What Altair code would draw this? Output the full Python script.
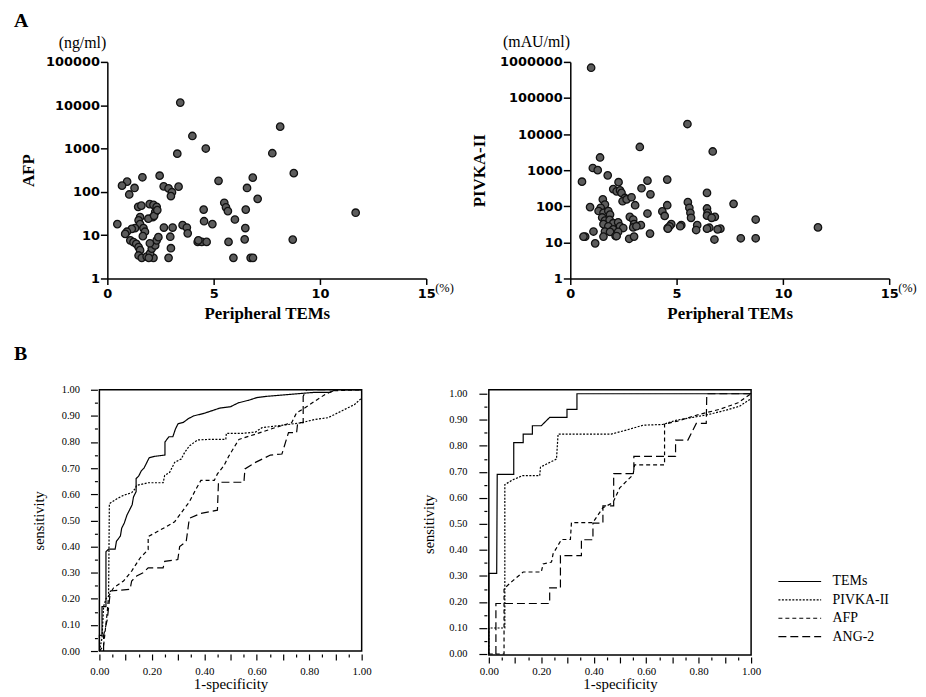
import altair as alt
import pandas as pd

SANS = "DejaVu Sans"
SERIF = "Liberation Serif"

# ---------------- Panel A: scatter data ----------------
afp_x = [3.43, 4.0, 4.63, 3.29, 8.13, 7.76, 8.77, 11.68, 8.72, 5.23, 6.84, 6.57, 7.07, 6.51,
         5.5, 5.58, 5.67, 6.0, 4.53, 4.55, 4.94, 6.49, 6.46, 5.7, 5.93, 6.74, 6.85, 4.25,
         4.44, 4.67, 4.28, 3.54, 3.74, 3.78, 2.66, 3.07, 2.96, 2.99, 2.88, 2.46, 2.65, 2.88,
         3.04, 2.99, 3.35, 1.65, 0.93, 0.69, 1.03, 1.28, 0.47,
         1.45, 1.6, 1.99, 2.17, 2.32, 2.25, 2.14, 1.93, 1.54, 1.47, 1.54, 1.7, 1.3, 1.15,
         0.92, 0.84, 1.08, 1.23, 1.36, 1.47, 1.54, 1.47, 1.62, 1.85, 2.17, 2.01, 2.09, 2.25,
         2.32, 2.4, 1.77, 1.67, 2.2, 2.35, 1.95, 2.0]
afp_y = [11500, 1950, 1000, 760, 3200, 780, 270, 33, 7.9, 180, 213, 123, 69, 39,
         56, 44, 36, 23, 39, 21, 18, 14.6, 8.0, 7, 3, 3, 3, 7,
         7, 7, 7.6, 17, 15, 11, 15, 15, 9.2, 5, 3, 236, 134, 120,
         98, 80, 132, 217, 172, 139, 87, 123, 18,
         45, 48, 52, 50, 45, 34, 26, 24, 26, 22, 18, 14.5, 14.5, 14,
         12, 10.7, 7.6, 6.9, 6.3, 5.3, 4.5, 3.4, 3, 3.2, 3, 3.8, 4.9, 5.8,
         7.6, 9, 12, 9.5, 28, 38, 3, 6.5]

pivka_x = [0.98, 5.51, 3.27, 6.70, 1.40, 1.06, 1.29, 1.76, 0.55, 4.56, 3.63, 2.27, 3.35, 3.77,
           6.43, 7.68, 5.53, 4.56, 3.05, 0.93, 6.43, 6.46, 6.8, 5.6, 5.65, 5.68, 4.33, 4.44,
           3.63, 8.72, 11.65, 7.06, 6.54, 5.97, 5.92, 5.22, 4.75, 4.58, 3.32, 3.75, 8.02, 8.72,
           6.78, 0.7, 1.09, 1.17, 2.8, 2.96, 3.0, 2.96, 2.77, 3.0,
           2.02, 2.18, 2.34, 2.41, 2.57, 2.46, 2.65, 2.88, 1.53, 1.63, 1.43, 1.33, 1.56, 1.79,
           1.87, 1.5, 1.63, 1.85, 2.02, 2.25, 1.56, 1.79, 2.02, 2.34, 2.49, 1.63, 1.87, 2.13,
           2.25, 2.18, 3.11, 4.67, 4.59, 5.17, 6.43, 6.65, 6.43, 6.93, 0.62, 1.56]
pivka_y = [690000, 19000, 4400, 3300, 2250, 1150, 1000, 720, 480, 550, 513, 465, 316, 215,
           235, 117, 130, 107, 107, 95, 87, 66, 51, 91, 66, 48, 72, 54,
           63, 43, 26, 24, 25.5, 30, 22, 30, 32, 25, 30, 17.5, 13, 13,
           12, 14.4, 20, 9.4, 51, 43, 32, 26, 12.6, 14.5,
           300, 260, 275, 235, 170, 138, 155, 178, 155, 112, 91, 74, 66, 74,
           59, 49, 40, 42, 34, 36, 32, 28, 23, 28, 25, 20, 19.5, 15,
           19.5, 15, 28, 28, 24, 28, 55, 48, 24, 23, 14.5, 14.5]

# ---------------- Panel B: ROC curves ----------------
series = ["TEMs", "PIVKA-II", "AFP", "ANG-2"]
dashes = [[1, 0], [2, 1.5], [4, 3], [8, 4]]

b1_tems_fpr = [0, 0, 0.01, 0.01, 0.025, 0.025, 0.035, 0.06, 0.065, 0.08, 0.085, 0.095, 0.105, 0.115,
               0.125, 0.13, 0.14, 0.14, 0.15, 0.16, 0.17, 0.18, 0.19, 0.21, 0.25, 0.25, 0.265, 0.28,
               0.29, 0.30, 0.32, 0.34, 0.36, 0.38, 0.40, 0.43, 0.46, 0.50, 0.53, 0.57, 0.60, 0.64,
               0.70, 0.76, 0.82, 0.88, 0.90, 1.0]
b1_tems_tpr = [0, 0.06, 0.06, 0.17, 0.17, 0.38, 0.39, 0.39, 0.42, 0.44, 0.47, 0.49, 0.52, 0.54,
               0.56, 0.59, 0.61, 0.66, 0.67, 0.69, 0.70, 0.72, 0.74, 0.745, 0.75, 0.80, 0.82, 0.82,
               0.85, 0.87, 0.875, 0.89, 0.90, 0.905, 0.91, 0.92, 0.93, 0.935, 0.95, 0.96, 0.97, 0.975,
               0.98, 0.985, 0.99, 0.99, 1.0, 1.0]
b1_pivka_fpr = [0, 0.01, 0.016, 0.025, 0.035, 0.038, 0.067, 0.092, 0.123, 0.136, 0.142, 0.186,
                0.243, 0.249, 0.268, 0.287, 0.312, 0.325, 0.343, 0.375, 0.419, 0.482, 0.484, 0.545,
                0.595, 0.62, 0.67, 0.72, 0.771, 0.821, 0.872, 0.922, 0.972, 1.0]
b1_pivka_tpr = [0, 0.05, 0.17, 0.2, 0.21, 0.564, 0.583, 0.596, 0.606, 0.621, 0.634, 0.644,
                0.644, 0.672, 0.684, 0.722, 0.735, 0.76, 0.785, 0.808, 0.81, 0.81, 0.833, 0.833,
                0.838, 0.855, 0.861, 0.867, 0.874, 0.886, 0.893, 0.918, 0.943, 0.968]
b1_afp_fpr = [0, 0.016, 0.03, 0.035, 0.054, 0.092, 0.123, 0.155, 0.186, 0.186, 0.255, 0.287,
              0.343, 0.369, 0.387, 0.438, 0.45, 0.475, 0.494, 0.532, 0.595, 0.67, 0.733, 0.752,
              0.784, 0.821, 0.859, 0.89, 1.0]
b1_afp_tpr = [0, 0.02, 0.15, 0.21, 0.242, 0.268, 0.306, 0.356, 0.388, 0.438, 0.476, 0.495,
              0.571, 0.621, 0.653, 0.653, 0.678, 0.71, 0.747, 0.81, 0.83, 0.855, 0.874, 0.912,
              0.931, 0.956, 0.981, 0.996, 1.0]
b1_ang_fpr = [0.016, 0.016, 0.03, 0.042, 0.117, 0.123, 0.142, 0.167, 0.186, 0.243, 0.249, 0.299,
              0.306, 0.331, 0.343, 0.387, 0.45, 0.454, 0.551, 0.555, 0.595, 0.652, 0.696, 0.721,
              0.752, 0.756, 0.777, 0.777, 0.79, 1.0]
b1_ang_tpr = [0.0, 0.06, 0.12, 0.23, 0.236, 0.268, 0.287, 0.3, 0.318, 0.318, 0.343, 0.35,
              0.4, 0.419, 0.508, 0.527, 0.539, 0.646, 0.646, 0.697, 0.722, 0.75, 0.754, 0.836,
              0.836, 0.874, 0.874, 0.975, 1.0, 1.0]

b2_tems_fpr = [0, 0, 0.03, 0.032, 0.095, 0.095, 0.131, 0.131, 0.166, 0.166, 0.2, 0.232, 0.298,
               0.298, 0.336, 0.336, 1.0]
b2_tems_tpr = [0, 0.31, 0.31, 0.69, 0.69, 0.812, 0.812, 0.845, 0.845, 0.877, 0.877, 0.909, 0.909,
               0.94, 0.94, 1.0, 1.0]
b2_pivka_fpr = [0, 0, 0.061, 0.061, 0.093, 0.128, 0.194, 0.197, 0.258, 0.264, 0.467, 0.524, 0.588,
                0.664, 0.714, 0.778, 0.841, 0.905, 0.956, 1.0]
b2_pivka_tpr = [0, 0.10, 0.10, 0.651, 0.67, 0.685, 0.685, 0.718, 0.749, 0.845, 0.845, 0.86, 0.879,
                0.882, 0.898, 0.909, 0.921, 0.937, 0.952, 0.981]
b2_afp_fpr = [0, 0.058, 0.058, 0.093, 0.131, 0.2, 0.207, 0.239, 0.245, 0.277, 0.311, 0.315, 0.397,
              0.435, 0.473, 0.499, 0.55, 0.556, 0.67, 0.67, 0.72, 0.8, 0.88, 0.95, 1.0]
b2_afp_tpr = [0, 0, 0.251, 0.283, 0.315, 0.315, 0.346, 0.353, 0.385, 0.44, 0.44, 0.505, 0.505,
              0.562, 0.581, 0.638, 0.689, 0.727, 0.727, 0.883, 0.895, 0.92, 0.94, 0.965, 1.0]
b2_ang_fpr = [0.027, 0.027, 0.232, 0.232, 0.273, 0.273, 0.353, 0.353, 0.397, 0.397, 0.435, 0.435,
              0.476, 0.476, 0.553, 0.553, 0.712, 0.712, 0.759, 0.791, 0.829, 0.831, 1.0]
b2_ang_tpr = [0, 0.194, 0.194, 0.254, 0.254, 0.378, 0.378, 0.439, 0.439, 0.503, 0.503, 0.569,
              0.569, 0.693, 0.693, 0.759, 0.759, 0.822, 0.822, 0.886, 0.886, 1.0, 1.0]


def scatter(xs, ys, ymax, ytitle, unit, unit_dx, unit_dy, xrange, yoffset, ext, tpad, width,
            letter=None):
    xscale = alt.Scale(domain=[0, 15], range=xrange, nice=False, zero=False)
    yscale = alt.Scale(type="log", domain=[1, ymax], nice=False)
    ndec = len(str(ymax)) - 1
    xenc = alt.X("x:Q", scale=xscale,
                 axis=alt.Axis(values=[0, 5, 10, 15], format="d", title="Peripheral TEMs",
                               labelFlush=False, tickSize=6, labelPadding=3, titlePadding=5,
                               labelFont=SANS, labelFontSize=13, labelFontWeight="bold",
                               titleFont=SERIF, titleFontSize=17, titleFontWeight="bold",
                               domainWidth=1.5, tickWidth=1.5))
    yenc = alt.Y("y:Q", scale=yscale,
                 axis=alt.Axis(values=[10 ** k for k in range(ndec + 1)], format="d",
                               title=ytitle, offset=yoffset, tickSize=7, labelPadding=1,
                               minExtent=ext, maxExtent=ext, titlePadding=tpad,
                               labelFont=SANS, labelFontSize=13, labelFontWeight="bold",
                               titleFont=SERIF, titleFontSize=17, titleFontWeight="bold",
                               domainWidth=1.5, tickWidth=1.5))
    pts = alt.Chart(pd.DataFrame({"x": xs, "y": ys})).mark_circle(
        size=56, color="#5c5c5c", stroke="#111111", strokeWidth=1.3, opacity=1
    ).encode(x=xenc, y=yenc)
    unit_t = alt.Chart(pd.DataFrame({"x": [0], "y": [ymax], "t": [unit]})).mark_text(
        font=SERIF, fontSize=16, dx=unit_dx, dy=unit_dy, align="center", baseline="middle",
        color="black"
    ).encode(x=xenc, y=yenc, text="t:N")
    pct = alt.Chart(pd.DataFrame({"x": [15], "y": [1], "t": ["(%)"]})).mark_text(
        font=SERIF, fontSize=12.5, dx=9, dy=10, align="left", baseline="middle", color="black"
    ).encode(x=xenc, y=yenc, text="t:N")
    layers = [pts, unit_t, pct]
    if letter:
        lt = alt.Chart(pd.DataFrame({"x": [0], "y": [ymax], "t": [letter]})).mark_text(
            font=SERIF, fontSize=20, fontWeight="bold", dx=-94, dy=-41, align="left",
            baseline="middle", color="black"
        ).encode(x=xenc, y=yenc, text="t:N")
        layers.append(lt)
    return alt.layer(*layers).properties(width=width, height=218,
                                         view=alt.ViewBackground(stroke="transparent"))


def roc(curves, width, height, yrange, xoff, xlabpad, yoff, ytick, ylabpad, yext, ytpad, legend,
        letter=None):
    rows = []
    for name, (f, t) in zip(series, curves):
        for i, (a, b) in enumerate(zip(f, t)):
            rows.append({"s": name, "i": i, "f": a, "t": b})
    df = pd.DataFrame(rows)
    ticks = [round(0.05 * k, 2) for k in range(21)]
    xaxis = alt.Axis(values=ticks, title="1-specificity",
                     labelExpr="round(datum.value*100) % 20 == 0 ? format(datum.value, '.2f') : ''",
                     tickSize={"condition": {"test": "round(datum.value*100) % 10 != 0", "value": 3},
                               "value": 6},
                     labelFlush=False, labelOverlap=False, offset=xoff, labelPadding=xlabpad,
                     titlePadding=0, domain=False, tickWidth=1.2,
                     labelFont=SERIF, labelFontSize=11, titleFont=SERIF, titleFontSize=15,
                     titleFontWeight="normal")
    yaxis = alt.Axis(values=ticks, title="sensitivity",
                     labelExpr="round(datum.value*100) % 10 == 0 ? format(datum.value, '.2f') : ''",
                     tickSize={"condition": {"test": "round(datum.value*100) % 10 != 0", "value": 3},
                               "value": ytick},
                     labelFlush=False, labelOverlap=False, offset=yoff, labelPadding=ylabpad,
                     minExtent=yext, maxExtent=yext, titlePadding=ytpad, domain=False,
                     tickWidth=1.2, labelFont=SERIF, labelFontSize=10.5, titleFont=SERIF,
                     titleFontSize=14.5, titleFontWeight="normal")
    yscale = alt.Scale(domain=[0, 1], nice=False, zero=False)
    if yrange:
        yscale = alt.Scale(domain=[0, 1], nice=False, zero=False, range=yrange)
    xenc = alt.X("f:Q", scale=alt.Scale(domain=[0, 1], nice=False, zero=False), axis=xaxis)
    yenc = alt.Y("t:Q", scale=yscale, axis=yaxis)
    lines = alt.Chart(df).mark_line(color="black", strokeWidth=1.2).encode(
        x=xenc, y=yenc,
        strokeDash=alt.StrokeDash("s:N", scale=alt.Scale(domain=series, range=dashes),
                                  legend=legend),
        order=alt.Order("i:Q"),
    )
    layers = [lines]
    if letter:
        lt = alt.Chart(pd.DataFrame({"f": [0], "t": [1], "s": [letter]})).mark_text(
            font=SERIF, fontSize=20, fontWeight="bold", dx=-86, dy=-36, align="left",
            baseline="middle", color="black"
        ).encode(x=xenc, y=yenc, text="s:N")
        layers.append(lt)
    return alt.layer(*layers).properties(width=width, height=height,
                                         view=alt.ViewBackground(stroke="black", strokeWidth=1.5))


a1 = scatter(afp_x, afp_y, 100000, "AFP", "(ng/ml)", -25, -19, [8, 329], -8, 65, 5, 329,
             letter="A")
a2 = scatter(pivka_x, pivka_y, 1000000, "PIVKA-II", "(mAU/ml)", -34, -20, [0, 321], 0, 74, 8, 321)

leg = alt.Legend(title=None, orient="none", legendX=306, legendY=186,
                 symbolType="M-5,0L5,0", symbolSize=74, symbolStrokeWidth=1.2,
                 symbolStrokeColor="black", labelFont=SERIF, labelFontSize=14,
                 labelColor="black", rowPadding=4.5, labelOffset=26)

b1 = roc([(b1_tems_fpr, b1_tems_tpr), (b1_pivka_fpr, b1_pivka_tpr),
          (b1_afp_fpr, b1_afp_tpr), (b1_ang_fpr, b1_ang_tpr)],
         264, 263, None, 3, 6, 2, 7, 11, 32, 19, None, letter="B")
b2 = roc([(b2_tems_fpr, b2_tems_tpr), (b2_pivka_fpr, b2_pivka_tpr),
          (b2_afp_fpr, b2_afp_tpr), (b2_ang_fpr, b2_ang_tpr)],
         264, 267, [266, 4], 2, 3, 2, 8, 12, 37, 14, leg)

top = alt.hconcat(a1, a2, spacing=15)
bottom = alt.hconcat(b1, b2, spacing=48).resolve_scale(strokeDash="independent") \
    .resolve_legend(strokeDash="independent")

chart = alt.vconcat(top, bottom, spacing=21).properties(
    padding={"left": 5, "top": 0, "right": 0, "bottom": 0}
).configure(background="white", font=SERIF).configure_view(stroke="transparent").configure_axis(
    domainColor="black", tickColor="black", labelColor="black", titleColor="black", grid=False
)

chart.save("out.html", embed_options={"renderer": "svg", "actions": False})
